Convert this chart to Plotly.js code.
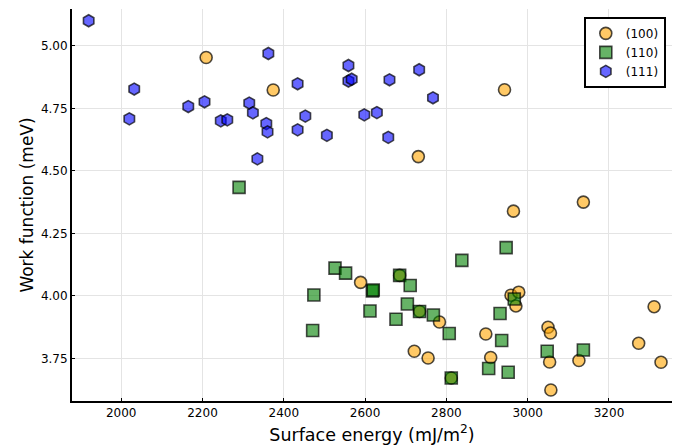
<!DOCTYPE html>
<html>
<head>
<meta charset="utf-8">
<script src="https://cdn.plot.ly/plotly-3.0.1.min.js"></script>
<style>html,body{margin:0;padding:0;background:#fff;}#chart{width:673px;height:447px;}</style>
</head>
<body>
<div id="chart"></div>
<script>
// (100) surfaces
const x100 = [2209, 2374, 2943, 2731, 2965, 3137, 2589, 2685, 2734, 2783, 2721, 2755, 2897, 2909, 2959, 2978, 2971, 2812, 3050, 3056, 3054, 3057, 3126, 3311, 3273, 3328];
const y100 = [4.953, 4.823, 4.824, 4.557, 4.339, 4.375, 4.054, 4.082, 3.938, 3.896, 3.779, 3.752, 3.848, 3.754, 4.003, 4.015, 3.960, 3.672, 3.875, 3.852, 3.736, 3.624, 3.742, 3.957, 3.811, 3.735];
// (110) surfaces
const x110 = [2290, 2526, 2552, 2474, 2471, 2612, 2618, 2620, 2685, 2711, 2704, 2734, 2676, 2768, 2807, 2838, 2947, 2967, 2932, 2936, 2904, 2952, 2812, 3048, 3137];
const y110 = [4.434, 4.111, 4.091, 4.004, 3.862, 3.940, 4.020, 4.024, 4.082, 4.042, 3.968, 3.938, 3.907, 3.924, 3.850, 4.142, 4.193, 3.988, 3.930, 3.822, 3.710, 3.695, 3.672, 3.779, 3.784];
// (111) surfaces
const x111 = [1920, 2032, 2020, 2165, 2205, 2245, 2261, 2315, 2324, 2335, 2357, 2360, 2362, 2434, 2434, 2453, 2506, 2559, 2559, 2567, 2598, 2629, 2660, 2733, 2767, 2657];
const y111 = [5.100, 4.827, 4.708, 4.757, 4.776, 4.700, 4.704, 4.771, 4.732, 4.548, 4.689, 4.656, 4.969, 4.848, 4.664, 4.719, 4.642, 4.921, 4.859, 4.866, 4.724, 4.733, 4.864, 4.904, 4.792, 4.634];

const seriesNames = ['(100)', '(110)', '(111)'];
const xTicks = [2000, 2200, 2400, 2600, 2800, 3000, 3200];
const yTicks = [3.75, 4.00, 4.25, 4.50, 4.75, 5.00];

const font = 'DejaVu Sans, sans-serif';
const lineCol = 'rgba(0,0,0,0.7)';

function tr(x, y, name, sym, fill) {
  return {
    type: 'scatter', mode: 'markers', x: x, y: y, name: name,
    marker: {symbol: sym, size: 12, color: fill, line: {color: lineCol, width: 1.6}}
  };
}

const data = [
  tr(x100, y100, seriesNames[0], 'circle', 'rgba(255,165,0,0.6)'),
  tr(x110, y110, seriesNames[1], 'square', 'rgba(0,128,0,0.6)'),
  tr(x111, y111, seriesNames[2], 'hexagon', 'rgba(0,0,255,0.6)')
];

const axisCommon = {
  showline: true, linecolor: 'black', linewidth: 2,
  showgrid: true, gridcolor: '#e4e4e4', gridwidth: 1,
  zeroline: false, ticks: 'inside', ticklen: 3, tickcolor: 'black', tickwidth: 1,
  tickfont: {family: font, size: 12, color: 'black'},
  mirror: false
};

const layout = {
  width: 673, height: 447,
  margin: {l: 72, r: 1, t: 9, b: 46},
  paper_bgcolor: 'white', plot_bgcolor: 'white',
  font: {family: font, color: 'black'},
  xaxis: Object.assign({}, axisCommon, {
    range: [1879, 3355], tickvals: xTicks, ticktext: xTicks.map(String),
    title: {text: 'Surface energy (mJ/m<sup>2</sup>)', font: {family: font, size: 17.5}, standoff: 9}
  }),
  yaxis: Object.assign({}, axisCommon, {
    range: [3.58, 5.147], tickvals: yTicks, ticktext: yTicks.map(v => v.toFixed(2)),
    title: {text: 'Work function (meV)', font: {family: font, size: 17}, standoff: 3}
  }),
  showlegend: true,
  legend: {
    x: 0.853, y: 0.98, xanchor: 'left', yanchor: 'top',
    bgcolor: 'white', bordercolor: 'black', borderwidth: 2,
    font: {family: font, size: 12, color: 'black'},
    tracegroupgap: 0
  }
};

Plotly.newPlot('chart', data, layout, {displayModeBar: false, staticPlot: true});
</script>
</body>
</html>
